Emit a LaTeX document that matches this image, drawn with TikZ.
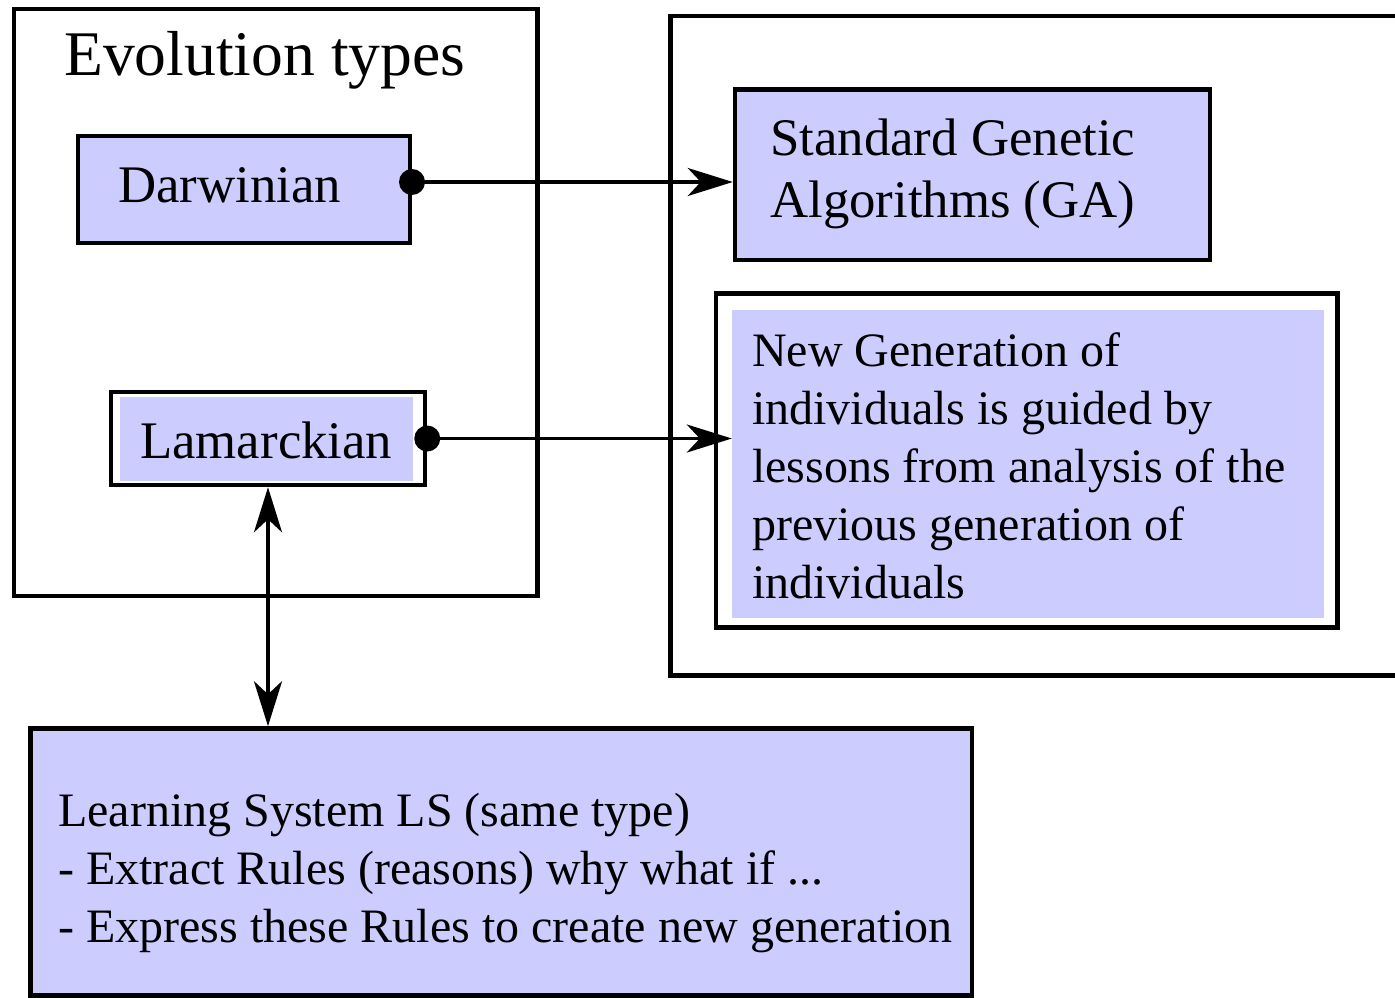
\documentclass[tikz,border=0pt]{standalone}
\usepackage{fontspec}
\setmainfont{Liberation Serif}
\usetikzlibrary{arrows.meta}
\definecolor{lav}{HTML}{CCCCFF}
\begin{document}
\begin{tikzpicture}[x=1pt,y=-1pt,
  frame/.style={draw, line width=4.5pt, inner sep=0pt},
  fillbox/.style={frame, fill=lav},
  padfill/.style={fill=lav, draw=none, inner sep=0pt},
  lbl/.style={anchor=base west, inner sep=0pt},
  titlefont/.style={font=\fontsize{63.6}{72}\selectfont},
  bigfont/.style={font=\fontsize{52.8}{61}\selectfont},
  bodyfont/.style={font=\fontsize{48}{58}\selectfont},
  tip/.style={},
  conn/.style={line width=3.6pt, -{Stealth[length=45pt,width=28pt,inset=13pt]}},
  biconn/.style={line width=3.6pt, {Stealth[length=45pt,width=28pt,inset=13pt]}-{Stealth[length=45pt,width=28pt,inset=13pt]}},
  dot/.style={fill=black}]
\useasboundingbox (0,0) rectangle (1395,998);
\clip (0,0) rectangle (1395,998);

% outer frames
\node[frame, minimum width=523.5pt, minimum height=587pt] (evo) at (275.75,302.5) {};
\node[frame, minimum width=780pt, minimum height=659.5pt] (right) at (1060.5,345.75) {};

% left column boxes
\node[fillbox, minimum width=332pt, minimum height=107pt] (dar) at (244,189.5) {};
\node[frame, fill=white, minimum width=314pt, minimum height=93pt] (lam) at (268,438.5) {};
\node[padfill, minimum width=293pt, minimum height=84pt] (lamin) at (266.5,439) {};

% right column boxes
\node[fillbox, minimum width=475pt, minimum height=170.5pt] (ga) at (972.5,174.75) {};
\node[frame, fill=white, minimum width=621.5pt, minimum height=334pt] (ng) at (1026.75,460.5) {};
\node[padfill, minimum width=592pt, minimum height=308pt] (ngin) at (1028,464) {};

% learning system box
\node[fillbox, minimum width=941.5pt, minimum height=267pt] (ls) at (501.25,862) {};

% texts
\node[lbl, titlefont] (ttl) at (64,75) {Evolution types};
\node[lbl, bigfont] (dartxt) at (118,202) {Darwinian};
\node[lbl, bigfont] (lamtxt) at (140,458) {Lamarckian};
\node[lbl, bigfont] (ga1) at (770,155) {Standard Genetic};
\node[lbl, bigfont] (ga2) at (770,217) {Algorithms (GA)};
\node[lbl, bodyfont] (ng1) at (752,366) {New Generation of};
\node[lbl, bodyfont] (ng2) at (752,424) {individuals is guided by};
\node[lbl, bodyfont] (ng3) at (752,482) {lessons from analysis of the};
\node[lbl, bodyfont] (ng4) at (752,540) {previous generation of};
\node[lbl, bodyfont] (ng5) at (752,598) {individuals};
\node[lbl, bodyfont] (ls1) at (58,826) {Learning System LS (same type)};
\node[lbl, bodyfont] (ls2) at (58,884) {- Extract Rules (reasons) why what if ...};
\node[lbl, bodyfont] (ls3) at (58,942) {- Express these Rules to create new generation};

% connectors
\coordinate (dstart) at (412,182);
\draw[conn] (dstart) -- (dstart -| ga.west);
\fill[dot] (dstart) circle (13pt);
\draw[conn] (lam.east) -- (lam.east -| ngin.west);
\fill[dot] (lam.east) circle (13pt);
\draw[biconn] (lam.south) -- (lam.south |- ls.north);
\end{tikzpicture}
\end{document}
